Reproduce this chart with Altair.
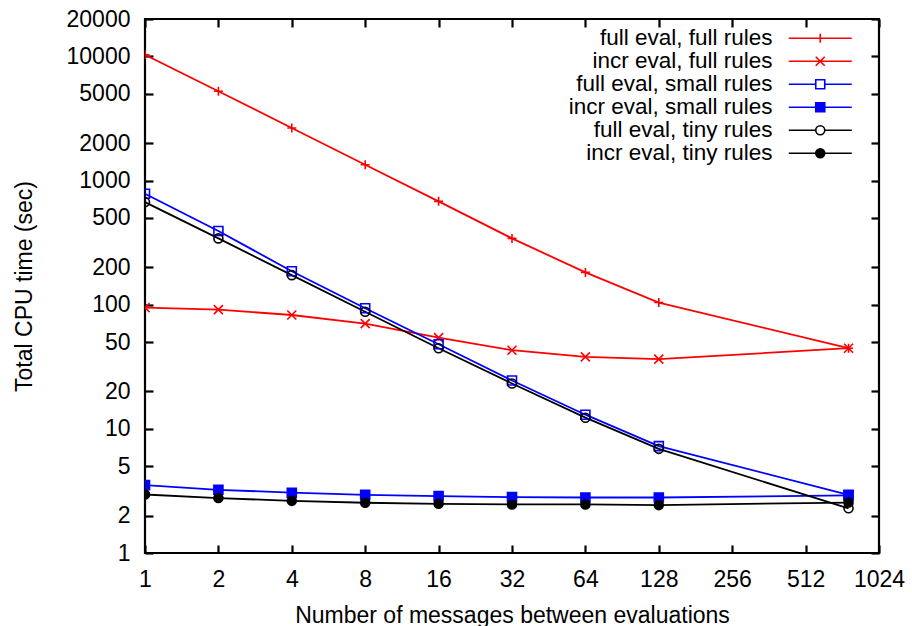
import altair as alt
import pandas as pd

# ---- data ----
x_vals = [1, 2, 4, 8, 16, 32, 64, 128, 768]
series_names = [
    "full eval, full rules",
    "incr eval, full rules",
    "full eval, small rules",
    "incr eval, small rules",
    "full eval, tiny rules",
    "incr eval, tiny rules",
]
full_full = [10300, 5240, 2650, 1340, 680, 342, 182, 104, 44.6]
incr_full = [94.6, 91.2, 82.6, 70.3, 54.3, 43.0, 38.0, 36.4, 44.6]
full_small = [782, 392, 186, 93.5, 48.0, 24.5, 13.0, 7.26, 2.94]
incr_small = [3.52, 3.23, 3.06, 2.94, 2.87, 2.82, 2.80, 2.80, 2.91]
full_tiny = [670, 342, 173, 87.8, 44.6, 23.2, 12.3, 6.9, 2.29]
incr_tiny = [2.96, 2.77, 2.63, 2.54, 2.49, 2.46, 2.46, 2.43, 2.55]

x_ticks = [1, 2, 4, 8, 16, 32, 64, 128, 256, 512, 1024]
y_ticks = [1, 2, 5, 10, 20, 50, 100, 200, 500, 1000, 2000, 5000, 10000, 20000]

series_colors = ["#ff0000", "#ff0000", "#0000ff", "#0000ff", "#000000", "#000000"]
marker_fill = ["transparent", "transparent", "transparent", "#0000ff", "transparent", "#000000"]
marker_kind = ["plus", "cross", "square", "square", "circle", "circle"]


def marker_path(kind, dx=0.0, with_line=False):
    """Unit-box symbol path (Vega scales by sqrt(size)/2), optionally shifted and with a line sample."""
    def f(v):
        return f"{v:.2f}"
    parts = []
    if with_line:
        if kind in ("plus", "cross"):
            parts.append(f"M{f(dx - 7)},0H{f(dx + 7)}")
        else:
            parts.append(f"M{f(dx - 7)},0H{f(dx - 1)}M{f(dx + 1)},0H{f(dx + 7)}")
    if kind == "plus":
        parts.append(f"M{f(dx - 1)},0H{f(dx + 1)}M{f(dx)},-1V1")
    elif kind == "cross":
        parts.append(f"M{f(dx - 1)},-1L{f(dx + 1)},1M{f(dx - 1)},1L{f(dx + 1)},-1")
    elif kind == "square":
        parts.append(f"M{f(dx - 1)},-1H{f(dx + 1)}V1H{f(dx - 1)}Z")
    else:
        parts.append(f"M{f(dx - 1)},0A1,1,0,1,0,{f(dx + 1)},0A1,1,0,1,0,{f(dx - 1)},0Z")
    return "".join(parts)


marker_paths = [marker_path(k) for k in marker_kind]
LEGEND_SHIFT = 62.0  # in symbol units (4.5 px each): puts the sample to the right of the labels
legend_paths = [marker_path(k, LEGEND_SHIFT, True) for k in marker_kind]

rows = []
for name, vals in zip(series_names, [full_full, incr_full, full_small, incr_small, full_tiny, incr_tiny]):
    for x, y in zip(x_vals, vals):
        rows.append({"series": name, "x": x, "y": y})
df = pd.DataFrame(rows)

FONT = "Liberation Sans"
FS = 23
LEG_FS = 22.5

xscale = alt.Scale(type="log", base=2, domain=[1, 1024], nice=False)
yscale = alt.Scale(type="log", base=10, domain=[1, 20000], nice=False)

base = alt.Chart(df)

lines = base.mark_line(strokeWidth=1.8, clip=True).encode(
    x=alt.X("x:Q", scale=xscale, axis=alt.Axis(
        orient="bottom", values=x_ticks, format="d", ticks=False, domain=False, grid=False,
        labelPadding=15, labelFlush=False, labelOverlap=False, labelFontSize=FS, labelFont=FONT,
        labelColor="black", title="Number of messages between evaluations", titleFontSize=FS,
        titleFont=FONT, titleFontWeight="normal", titleColor="black", titlePadding=13)),
    y=alt.Y("y:Q", scale=yscale, axis=alt.Axis(
        orient="left", values=y_ticks, format="d", ticks=False, domain=False, grid=False,
        labelPadding=15, labelFlush=False, labelOverlap=False, labelFontSize=FS, labelFont=FONT,
        labelColor="black", title="Total CPU time (sec)", titleFontSize=FS,
        titleFont=FONT, titleFontWeight="normal", titleColor="black", titlePadding=30)),
    color=alt.Color("series:N", scale=alt.Scale(domain=series_names, range=series_colors), legend=None),
)

points = base.mark_point(size=81, strokeWidth=1.6, opacity=1, clip=True).encode(
    x=alt.X("x:Q", scale=xscale, axis=None),
    y=alt.Y("y:Q", scale=yscale, axis=None),
    shape=alt.Shape("series:N", scale=alt.Scale(domain=series_names, range=marker_paths), legend=None),
    stroke=alt.Stroke("series:N", scale=alt.Scale(domain=series_names, range=series_colors), legend=None),
    fill=alt.Fill("series:N", scale=alt.Scale(domain=series_names, range=marker_fill), legend=None),
)

leg = alt.Legend(
    title=None, orient="none", legendX=385, legendY=8, labelFont=FONT, labelFontSize=LEG_FS,
    labelColor="black", labelAlign="right", labelOffset=220, symbolOffset=0, labelLimit=400,
    symbolSize=81, symbolStrokeWidth=1.6, rowPadding=0, padding=0,
)

legend_layer = base.transform_filter("false").mark_point(size=81, strokeWidth=1.6, opacity=1).encode(
    x=alt.X("x:Q", scale=xscale, axis=None),
    y=alt.Y("y:Q", scale=yscale, axis=None),
    shape=alt.Shape("series:N", scale=alt.Scale(domain=series_names, range=legend_paths), legend=leg),
    stroke=alt.Stroke("series:N", scale=alt.Scale(domain=series_names, range=series_colors), legend=leg),
    fill=alt.Fill("series:N", scale=alt.Scale(domain=series_names, range=marker_fill), legend=leg),
)


def tick_axis(orient, values):
    return alt.Axis(orient=orient, values=values, offset=-8, tickSize=8, tickWidth=2.2,
                    tickColor="black", labels=False, domain=False, grid=False, title=None)


ticks_a = base.transform_filter("false").mark_point().encode(
    x=alt.X("x:Q", scale=xscale, axis=tick_axis("bottom", x_ticks)),
    y=alt.Y("y:Q", scale=yscale, axis=tick_axis("left", y_ticks)),
)
ticks_b = base.transform_filter("false").mark_point().encode(
    x=alt.X("x:Q", scale=xscale, axis=tick_axis("top", x_ticks)),
    y=alt.Y("y:Q", scale=yscale, axis=tick_axis("right", y_ticks)),
)

chart = alt.layer(lines, points, legend_layer, ticks_a, ticks_b).resolve_scale(
    shape="independent", fill="independent", stroke="independent"
).resolve_axis(
    x="independent", y="independent"
).properties(
    width=734, height=534,
    autosize=alt.AutoSizeParams(type="none"),
    padding={"left": 145, "top": 19, "right": 33, "bottom": 73},
    background="white",
).configure_view(stroke="black", strokeWidth=2.2)

chart.save("out.html", embed_options={"renderer": "svg", "actions": False})
